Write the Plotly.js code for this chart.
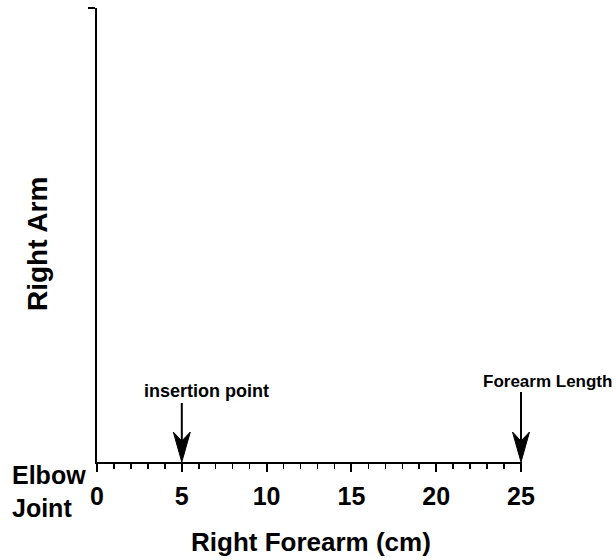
<!DOCTYPE html>
<html>
<head>
<meta charset="utf-8">
<script src="https://cdn.plot.ly/plotly-3.0.1.min.js"></script>
<style>html,body{margin:0;padding:0;background:#fff;}#chart{width:616px;height:560px;}</style>
</head>
<body>
<div id="chart"></div>
<script>
const tickValues = [0, 5, 10, 15, 20, 25];
const tickLabels = ["0", "5", "10", "15", "20", "25"];
const markerPositions = [5, 25];
const markerLabels = ["insertion point", "Forearm Length"];
const xTitle = "Right Forearm (cm)";
const yTitle = "Right Arm";
const originLabel = "Elbow<br>Joint";
const xRange = [0, 25];

const FONT = "Liberation Sans, Arial, Helvetica, sans-serif";
const PLOT_L = 97, PLOT_W = 424, PLOT_T = 8, PLOT_H = 454;
const px = v => (v - PLOT_L) / PLOT_W;           // pixel x -> paper x
const py = v => (PLOT_T + PLOT_H - v) / PLOT_H;  // pixel y -> paper y
// data x -> paper x (x axis spans the whole plot width)
const dataToPaper = v => (v - xRange[0]) / (xRange[1] - xRange[0]);

// arrow styling (pixel lengths), one per marker
const arrowLens = [59, 70];
const labelShift = [[25, 71, 18], [26, 81, 17]];

const shapes = [];
const annotations = [];
markerPositions.forEach((xv, i) => {
  const xp = dataToPaper(xv);
  shapes.push({type: 'line', xref: 'paper', yref: 'paper', xsizemode: 'pixel', ysizemode: 'pixel',
    xanchor: xp, yanchor: 0, x0: 0, x1: 0, y0: 18, y1: arrowLens[i],
    line: {color: '#000', width: 2}});
  shapes.push({type: 'path', xref: 'paper', yref: 'paper', xsizemode: 'pixel', ysizemode: 'pixel',
    xanchor: xp, yanchor: 0, path: 'M0,0L-8.5,30L0,21L8.5,30Z',
    fillcolor: '#000', line: {color: '#000', width: 1}});
  annotations.push({x: xv, y: 0, xref: 'x', yref: 'y', text: '<b>' + markerLabels[i] + '</b>',
    showarrow: false, xshift: labelShift[i][0], yshift: labelShift[i][1],
    font: {family: FONT, size: labelShift[i][2], color: '#000'}});
});
// the origin and forearm-end ticks reach further below the axis
[xRange[0], xRange[1]].forEach(xv => {
  shapes.push({type: 'line', xref: 'paper', yref: 'paper', xsizemode: 'pixel', ysizemode: 'pixel',
    xanchor: dataToPaper(xv), yanchor: 0, x0: 0, x1: 0, y0: 0, y1: -10,
    line: {color: '#000', width: 2}});
});

annotations.push(
  {x: px(311), y: py(542), xref: 'paper', yref: 'paper', xanchor: 'center', yanchor: 'middle',
   text: '<b>' + xTitle + '</b>', showarrow: false, font: {family: FONT, size: 26, color: '#000'}},
  {x: px(37), y: py(244), xref: 'paper', yref: 'paper', xanchor: 'center', yanchor: 'middle',
   text: '<b>' + yTitle + '</b>', showarrow: false, textangle: -90,
   font: {family: FONT, size: 28, color: '#000'}},
  {x: px(10), y: py(462), xref: 'paper', yref: 'paper', xanchor: 'left', yanchor: 'top', yshift: 3,
   text: '<b>' + originLabel + '</b>', showarrow: false, align: 'left',
   font: {family: FONT, size: 25, color: '#000'}}
);

const trace = {x: xRange, y: [0, 1], mode: 'none', type: 'scatter', hoverinfo: 'skip', showlegend: false};

const layout = {
  width: 616, height: 560,
  margin: {l: PLOT_L, r: 616 - PLOT_L - PLOT_W, t: PLOT_T, b: 560 - PLOT_T - PLOT_H},
  paper_bgcolor: '#fff', plot_bgcolor: '#fff',
  showlegend: false,
  xaxis: {
    range: xRange, showgrid: false, zeroline: false,
    showline: true, linewidth: 2, linecolor: '#000',
    tickvals: tickValues, ticktext: tickLabels,
    ticks: 'outside', ticklen: 8, tickwidth: 2, tickcolor: '#000',
    ticklabelstandoff: 3,
    minor: {dtick: 1, ticks: 'outside', ticklen: 5, tickwidth: 1.5, tickcolor: '#000', showgrid: false},
    tickfont: {family: FONT, size: 25, color: '#000', weight: 'bold'}
  },
  yaxis: {
    range: [0, 1], showgrid: false, zeroline: false,
    showline: true, linewidth: 2, linecolor: '#000',
    tickvals: [1], ticktext: [''], ticks: 'outside', ticklen: 7, tickwidth: 2, tickcolor: '#000',
    showticklabels: false
  },
  shapes: shapes,
  annotations: annotations
};

Plotly.newPlot('chart', [trace], layout, {staticPlot: true});
</script>
</body>
</html>
